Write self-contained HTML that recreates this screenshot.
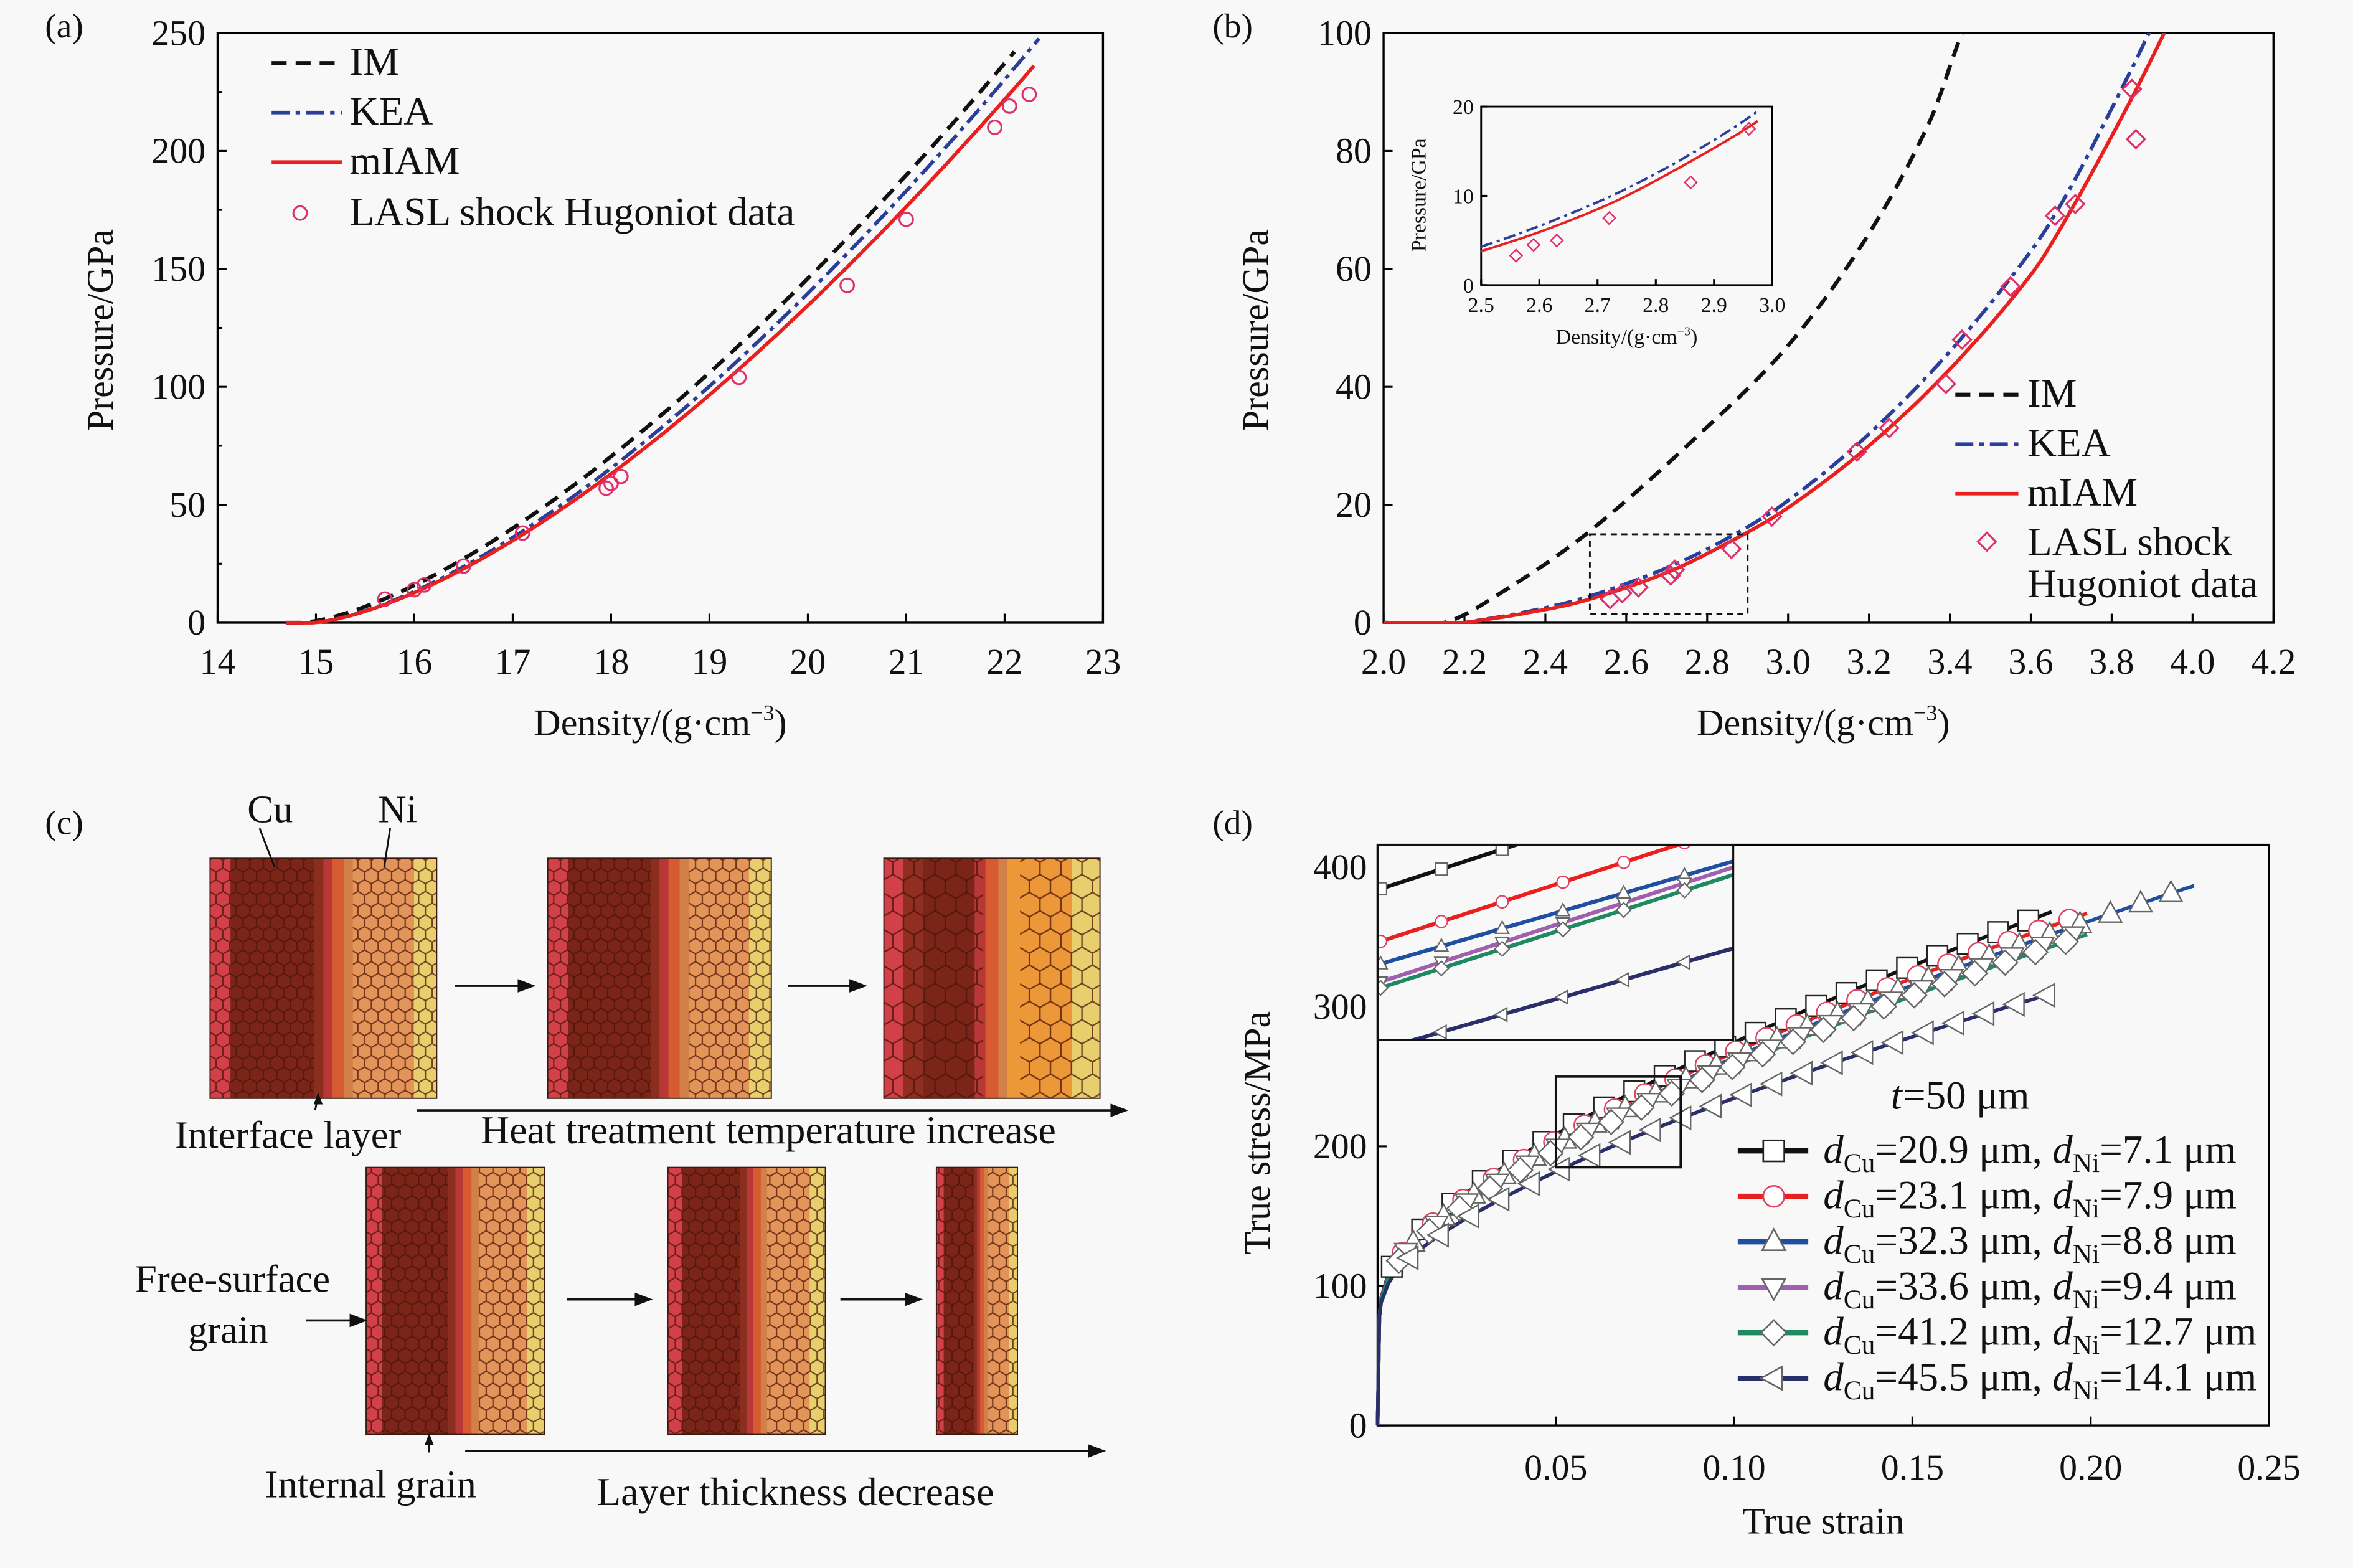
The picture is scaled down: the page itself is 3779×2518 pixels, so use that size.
<!DOCTYPE html>
<html><head><meta charset="utf-8">
<style>
html,body{margin:0;padding:0;background:#f8f8f8;}
svg{display:block;font-family:"Liberation Serif",serif;}
</style></head>
<body>
<svg id="s" width="3779" height="2518" viewBox="0 0 1568 1045" preserveAspectRatio="none" xmlns="http://www.w3.org/2000/svg">
<defs>
<pattern id="hexS" width="9" height="15.6" patternUnits="userSpaceOnUse">
<path d="M0,3.9 L4.5,1.3 L9,3.9 M4.5,1.3 L4.5,-1 M0,3.9 L0,9.1 L4.5,11.7 L9,9.1 L9,3.9 M4.5,11.7 L4.5,16.9" fill="none" stroke="#4a1208" stroke-width="0.9" opacity="0.75"/>
</pattern>
<pattern id="hexL" width="14" height="24.2" patternUnits="userSpaceOnUse">
<path d="M0,6 L7,2 L14,6 M7,2 L7,-2 M0,6 L0,14 L7,18 L14,14 L14,6 M7,18 L7,26" fill="none" stroke="#4a1208" stroke-width="1" opacity="0.75"/>
</pattern>
</defs>
<rect width="1568" height="1045" fill="#f8f8f8"/>
<g id="g"></g>
</svg>
<script>
var NS="http://www.w3.org/2000/svg",G=document.getElementById('g');
function el(t,a,txt){var e=document.createElementNS(NS,t);for(var k in a)e.setAttribute(k,a[k]);if(txt!==undefined)e.textContent=txt;G.appendChild(e);return e;}
function line(x1,y1,x2,y2,c,w,d){var a={x1:x1,y1:y1,x2:x2,y2:y2,stroke:c||'#000','stroke-width':w||1.3};if(d)a['stroke-dasharray']=d;el('line',a);}
function text(x,y,s,fs,anc,extra){var a={x:x,y:y,'font-size':fs||22,'text-anchor':anc||'middle',fill:'#111'};for(var k in extra)a[k]=extra[k];return el('text',a,s);}
function path(pts,c,w,d){var s='M'+pts.map(function(p){return p[0].toFixed(1)+','+p[1].toFixed(1)}).join(' L');var a={d:s,fill:'none',stroke:c,'stroke-width':w};if(d)a['stroke-dasharray']=d;el('path',a);}
function panelLabel(x,y,s){text(x,y,s,23,'start');}
function dens(x,y,fs){var t=el('text',{x:x,y:y,'font-size':fs,'text-anchor':'middle',fill:'#111'});t.innerHTML='Density/(g·cm<tspan font-size="'+(fs*0.6)+'" dy="'+(-fs*0.4)+'">−3</tspan><tspan dy="'+(fs*0.4)+'">)</tspan>';}
function interp(pts,x){for(var i=0;i<pts.length-1;i++){if(x>=pts[i][0]&&x<=pts[i+1][0]){var t=(x-pts[i][0])/(pts[i+1][0]-pts[i][0]);
 var p0=pts[Math.max(i-1,0)],p1=pts[i],p2=pts[i+1],p3=pts[Math.min(i+2,pts.length-1)];
 var m1=(p2[1]-p0[1])/(p2[0]-p0[0])*(p2[0]-p1[0]),m2=(p3[1]-p1[1])/(p3[0]-p1[0])*(p2[0]-p1[0]);
 var t2=t*t,t3=t2*t;return (2*t3-3*t2+1)*p1[1]+(t3-2*t2+t)*m1+(-2*t3+3*t2)*p2[1]+(t3-t2)*m2;}}return null;}

/* ---------- panel (a) ---------- */
(function(){
var X0=145,X1=735,Y0=415,Y1=22;
function fx(v){return X0+(v-14)/9*(X1-X0);} function fy(v){return Y0-(v/250)*(Y0-Y1);}
el('rect',{x:X0,y:Y1,width:X1-X0,height:Y0-Y1,fill:'none',stroke:'#000','stroke-width':1.4});
for(var v=14;v<=23;v++){line(fx(v),Y0,fx(v),Y0-6);text(fx(v),449,v,24);}
for(var v=0;v<=250;v+=50){line(X0,fy(v),X0+6,fy(v));text(X0-8,fy(v)+8,v,24,'end');}
for(var v=25;v<250;v+=50){line(X0,fy(v),X0+3,fy(v));}
dens(440,490,25);
text(75,220,'Pressure/GPa',25,'middle',{transform:'rotate(-90 75 220)'});
panelLabel(30,25,'(a)');
function curve(a,n,r0,rEnd,c,w,d){var p=[[fx(14.7),fy(0)],[fx(r0),fy(0)]];for(var r=r0;r<=rEnd+1e-9;r+=0.05){p.push([fx(r),fy(a*Math.pow(r-r0,n))]);}path(p,c,w,d);}
curve(12.9,1.48,14.85,22.12,'#111',2.6,'10,6');
curve(12.3,1.5,14.95,22.35,'#2a3f9a',2.4,'12,4,3,4');
curve(11.85,1.5,14.95,22.3,'#e8201e',2.4);
var dat=[[15.7,10],[16.0,14],[16.1,16],[16.5,24],[17.1,38],[17.95,57],[18.0,59],[18.1,62],[19.3,104],[20.4,143],[21.0,171],[21.9,210],[22.05,219],[22.25,224]];
dat.forEach(function(d){el('circle',{cx:fx(d[0]),cy:fy(d[1]),r:4.5,fill:'none',stroke:'#e0306a','stroke-width':1.3});});
line(181,42,228,42,'#111',2.6,'10,6');text(233,50,'IM',27,'start');
line(181,75,228,75,'#2a3f9a',2.4,'12,4,3,4');text(233,83,'KEA',27,'start');
line(181,108,228,108,'#e8201e',2.4);text(233,116,'mIAM',27,'start');
el('circle',{cx:200,cy:142,r:4.5,fill:'none',stroke:'#e0306a','stroke-width':1.3});text(233,150,'LASL shock Hugoniot data',27,'start');
})();

/* ---------- panel (b) ---------- */
var RED=[[2.2,0],[2.35,1.6],[2.5,3.8],[2.7,8.5],[2.85,13.5],[3.0,19.5],[3.2,30],[3.4,43],[3.6,59],[3.7,70],[3.85,89],[3.93,100],[4.0,110]];
var BLU=[[2.2,0],[2.35,1.8],[2.5,4.3],[2.7,9.3],[2.85,14.3],[3.0,20.7],[3.2,32],[3.4,46],[3.6,63],[3.7,74],[3.85,94],[3.9,101],[4.0,114]];
var IMP=[[2.0,0],[2.15,0],[2.3,5.5],[2.5,15],[2.75,30],[3.0,47],[3.2,66],[3.35,85],[3.43,100],[3.5,110]];
(function(){
var X0=922,X1=1515,Y0=415,Y1=22;
function fx(v){return X0+(v-2)/2.2*(X1-X0);} function fy(v){return Y0-(v/100)*(Y0-Y1);}
el('rect',{x:X0,y:Y1,width:X1-X0,height:Y0-Y1,fill:'none',stroke:'#000','stroke-width':1.4});
for(var i=0;i<=11;i++){var v=2+i*0.2;line(fx(v),Y0,fx(v),Y0-6);text(fx(v),449,v.toFixed(1),24);}
for(var v=0;v<=100;v+=20){line(X0,fy(v),X0+6,fy(v));text(X0-8,fy(v)+8,v,24,'end');}
dens(1215,490,25);
text(845,220,'Pressure/GPa',25,'middle',{transform:'rotate(-90 845 220)'});
panelLabel(808,25,'(b)');
var cp=el('clipPath',{id:'cb'});var r=document.createElementNS(NS,'rect');r.setAttribute('x',X0);r.setAttribute('y',Y1);r.setAttribute('width',X1-X0);r.setAttribute('height',Y0-Y1);cp.appendChild(r);
var gg=G;var cg=el('g',{'clip-path':'url(#cb)'});G=cg;
function cv(P,c,w,d){var p=[[fx(2.0),fy(0)]];for(var x=P[0][0];x<=P[P.length-1][0]+1e-9;x+=0.01){var y=interp(P,x);if(y!==null)p.push([fx(x),fy(y)]);}path(p,c,w,d);}
cv(IMP,'#111',2.6,'10,6');cv(BLU,'#2a3f9a',2.4,'12,4,3,4');cv(RED,'#e8201e',2.4);
G=gg;
var dat=[[2.56,4],[2.59,5],[2.63,6],[2.71,8],[2.72,9],[2.86,12.5],[2.96,18],[3.17,29],[3.25,33],[3.39,40.5],[3.43,48],[3.55,57],[3.66,69],[3.71,71],[3.85,90.5],[3.86,82]];
dat.forEach(function(d){var x=fx(d[0]),y=fy(d[1]);el('path',{d:'M'+x+','+(y-6)+' L'+(x+6)+','+y+' L'+x+','+(y+6)+' L'+(x-6)+','+y+'Z',fill:'none',stroke:'#e0306a','stroke-width':1.3});});
el('rect',{x:fx(2.51),y:fy(15),width:fx(2.9)-fx(2.51),height:fy(1.5)-fy(15),fill:'none',stroke:'#111','stroke-width':1.2,'stroke-dasharray':'4,3'});
line(1303,263,1345,263,'#111',2.6,'10,6');text(1351,271,'IM',27,'start');
line(1303,296,1345,296,'#2a3f9a',2.4,'12,4,3,4');text(1351,304,'KEA',27,'start');
line(1303,329,1345,329,'#e8201e',2.4);text(1351,337,'mIAM',27,'start');
el('path',{d:'M1324,355 L1330,361 L1324,367 L1318,361Z',fill:'none',stroke:'#e0306a','stroke-width':1.3});
text(1351,370,'LASL shock',27,'start');text(1351,398,'Hugoniot data',27,'start');
/* inset */
var IX0=987,IX1=1181,IY0=190,IY1=71;
function ix(v){return IX0+(v-2.5)/0.5*(IX1-IX0);} function iy(v){return IY0-v/20*(IY0-IY1);}
el('rect',{x:IX0,y:IY1,width:IX1-IX0,height:IY0-IY1,fill:'#f8f8f8',stroke:'#000','stroke-width':1.2});
for(var i=0;i<=5;i++){var v=2.5+i*0.1;line(ix(v),IY0,ix(v),IY0-4);text(ix(v),208,v.toFixed(1),14);}
[0,10,20].forEach(function(v){line(IX0,iy(v),IX0+4,iy(v));text(IX0-5,iy(v)+5,v,14,'end');});
dens(1084,229,14);
text(950,130,'Pressure/GPa',14,'middle',{transform:'rotate(-90 950 130)'});
function ic(P,c,w,d){var p=[];for(var x=2.5;x<=2.975;x+=0.005){p.push([ix(x),iy(interp(P,x))]);}path(p,c,w,d);}
ic(BLU,'#2a3f9a',1.6,'8,3,2,3');ic(RED,'#e8201e',1.6);
[[2.56,3.3],[2.59,4.5],[2.63,5],[2.72,7.5],[2.86,11.5],[2.96,17.5]].forEach(function(d){var x=ix(d[0]),y=iy(d[1]);el('path',{d:'M'+x+','+(y-4)+' L'+(x+4)+','+y+' L'+x+','+(y+4)+' L'+(x-4)+','+y+'Z',fill:'none',stroke:'#e0306a','stroke-width':1});});
})();

/* ---------- panel (c) ---------- */
(function(){
panelLabel(30,556,'(c)');
function block(x,y,w,h,large){
 var fr=[[0,0.09,'#d2404a'],[0.09,0.46,'#7a2518'],[0.46,0.50,'#8a2e20'],[0.50,0.54,'#b83838'],[0.54,0.59,'#d85a30'],[0.59,0.63,'#d08048'],[0.63,0.90,'#e39458'],[0.90,1,'#e8cf6e']];
 if(large)fr=[[0,0.09,'#d2404a'],[0.09,0.18,'#902e22'],[0.18,0.42,'#7a2518'],[0.42,0.47,'#b83838'],[0.47,0.53,'#d85a30'],[0.53,0.57,'#d08048'],[0.57,0.87,'#ec9838'],[0.87,1,'#e8cf6e']];
 fr.forEach(function(f){el('rect',{x:x+f[0]*w,y:y,width:(f[1]-f[0])*w+0.3,height:h,fill:f[2]});});
 el('rect',{x:x,y:y,width:0.46*w,height:h,fill:large?'url(#hexL)':'url(#hexS)'});
 el('rect',{x:x+0.63*w,y:y,width:0.37*w,height:h,fill:large?'url(#hexL)':'url(#hexS)'});
 el('rect',{x:x,y:y,width:w,height:h,fill:'none',stroke:'#3a1a10','stroke-width':0.8});
}
block(140,572,151,160,false);block(365,572,149,160,false);block(589,572,144,160,true);
block(244,778,119,178,false);block(445,778,105,178,false);block(624,778,54,178,false);
function arrow(x1,y,x2){line(x1,y,x2-8,y,'#111',1.5);el('path',{d:'M'+x2+','+y+' L'+(x2-12)+','+(y-4.5)+' L'+(x2-12)+','+(y+4.5)+'Z',fill:'#111'});}
arrow(303,657,357);arrow(525,657,578);arrow(378,866,435);arrow(560,866,615);arrow(204,880,245);
arrow(278,740,752);arrow(310,967,737);
text(180,548,'Cu',26);text(265,548,'Ni',26);
line(173,552,183,578,'#111',1.2);line(260,552,256,578,'#111',1.2);
line(210,740,212,730,'#111',1.2);el('path',{d:'M212,728 L209,736 L215,736Z',fill:'#111'});
text(192,765,'Interface layer',26);text(512,762,'Heat treatment temperature increase',26.5);
text(155,861,'Free-surface',26);text(152,895,'grain',26);
line(286,968,286,958,'#111',1.2);el('path',{d:'M286,955 L283,963 L289,963Z',fill:'#111'});
text(247,998,'Internal grain',26);text(530,1003,'Layer thickness decrease',26.5);
})();

/* ---------- panel (d) ---------- */
(function(){
var X0=918,X1=1512,Y0=950,Y1=563;
function fx(v){return X0+v/0.25*(X1-X0);} function fy(v){return Y0-v/400*(Y0-578);}
panelLabel(808,556,'(d)');
el('rect',{x:X0,y:Y1,width:X1-X0,height:Y0-Y1,fill:'none',stroke:'#000','stroke-width':1.4});
[0.05,0.10,0.15,0.20,0.25].forEach(function(v){line(fx(v),Y0,fx(v),Y0-6);text(fx(v),986,v.toFixed(2),24);});
for(var v=0;v<=400;v+=100){line(X0,fy(v),X0+6,fy(v));text(X0-7,fy(v)+8,v,24,'end');}
text(1215,1022,'True strain',25);
text(846,755,'True stress/MPa',25,'middle',{transform:'rotate(-90 846 755)'});
var S=[{A:1,end:0.19,c:'#111',m:'sq',st:0.0},{A:0.965,end:0.2,c:'#e8201e',m:'ci',st:0.003},{A:0.945,end:0.23,c:'#1f4fa0',m:'tu',st:0.006},{A:0.925,end:0.2,c:'#a060b0',m:'td',st:0.004},{A:0.915,end:0.2,c:'#1f8a60',m:'di',st:0.002},{A:0.8,end:0.19,c:'#2a2f6a',m:'tl',st:0.005}];
function sv(s,e){return 75+s.A*(20*(1-Math.exp(-e/0.002))+820*Math.pow(e,0.66));}
function mk(type,x,y,r,stroke,sw){
 var d;
 if(type=='sq'){el('rect',{x:x-r,y:y-r,width:2*r,height:2*r,fill:'#fff',stroke:stroke,'stroke-width':sw});return;}
 if(type=='ci'){el('circle',{cx:x,cy:y,r:r,fill:'#fff',stroke:stroke,'stroke-width':sw});return;}
 if(type=='tu')d='M'+x+','+(y-r*1.2)+' L'+(x+r*1.1)+','+(y+r*0.8)+' L'+(x-r*1.1)+','+(y+r*0.8)+'Z';
 if(type=='td')d='M'+x+','+(y+r*1.2)+' L'+(x+r*1.1)+','+(y-r*0.8)+' L'+(x-r*1.1)+','+(y-r*0.8)+'Z';
 if(type=='di')d='M'+x+','+(y-r*1.2)+' L'+(x+r*1.2)+','+y+' L'+x+','+(y+r*1.2)+' L'+(x-r*1.2)+','+y+'Z';
 if(type=='tl')d='M'+(x-r*1.2)+','+y+' L'+(x+r*0.8)+','+(y-r*1.1)+' L'+(x+r*0.8)+','+(y+r*1.1)+'Z';
 el('path',{d:d,fill:'#fff',stroke:stroke,'stroke-width':sw});
}
S.forEach(function(s){
 var p=[[fx(0),fy(0)],[fx(0.0005),fy(78)]];for(var e=0.001;e<=s.end;e+=0.002)p.push([fx(e),fy(sv(s,e))]);
 path(p,s.c,2.4);
});
S.forEach(function(s){
 for(var e=0.004+s.st;e<=s.end+1e-9;e+=0.0085){mk(s.m,fx(e),fy(sv(s,e)),6.8,s.m=='sq'?'#222':s.m=='ci'?'#e04060':'#666',1);}
});
el('rect',{x:fx(0.05),y:fy(250),width:fx(0.085)-fx(0.05),height:fy(185)-fy(250),fill:'none',stroke:'#111','stroke-width':1.5});
/* inset */
var IX0=918,IX1=1155,IY0=693,IY1=563;
var cp=el('clipPath',{id:'cd'});var r=document.createElementNS(NS,'rect');r.setAttribute('x',IX0);r.setAttribute('y',IY1);r.setAttribute('width',IX1-IX0);r.setAttribute('height',IY0-IY1);cp.appendChild(r);
el('rect',{x:IX0,y:IY1,width:IX1-IX0,height:IY0-IY1,fill:'#f8f8f8'});
var gg=G;G=el('g',{'clip-path':'url(#cd)'});
var IL=[[593,516,'#111','sq'],[628,551,'#e8201e','ci'],[643,574,'#1f4fa0','tu'],[655,578,'#a060b0','td'],[659,583,'#1f8a60','di'],[700,632,'#2a2f6a','tl']];
IL.forEach(function(l){
 var sl=(l[1]-l[0])/(IX1-IX0);
 line(IX0,l[0],IX1,l[1],l[2],2.6);
 for(var t=0;t<=5;t++){var x=IX0+2+t*40.5;var y=l[0]+sl*(x-IX0);mk(l[3],x,y,4,l[3]=='ci'?'#e04060':'#666',0.9);}
});
G=gg;
el('rect',{x:IX0,y:IY1,width:IX1-IX0,height:IY0-IY1,fill:'none',stroke:'#111','stroke-width':1.3});
text(1260,739,'t',27,'start',{'font-style':'italic'});text(1268,739,'=50 μm',27,'start');
var labs=[['20.9','7.1'],['23.1','7.9'],['32.3','8.8'],['33.6','9.4'],['41.2','12.7'],['45.5','14.1']];
labs.forEach(function(l,i){
 var y=767+i*30.3,s=S[i];
 line(1158,y,1205,y,s.c,3.5);
 mk(s.m,1182,y,7,s.m=='sq'?'#222':s.m=='ci'?'#e04060':'#666',1.1);
 var t=el('text',{x:1215,y:y+8,'font-size':27,fill:'#111'});
 t.innerHTML='<tspan font-style="italic">d</tspan><tspan font-size="18" dy="6">Cu</tspan><tspan dy="-6">='+l[0]+' μm, </tspan><tspan font-style="italic">d</tspan><tspan font-size="18" dy="6">Ni</tspan><tspan dy="-6">='+l[1]+' μm</tspan>';
});
})();
</script>
</body></html>
